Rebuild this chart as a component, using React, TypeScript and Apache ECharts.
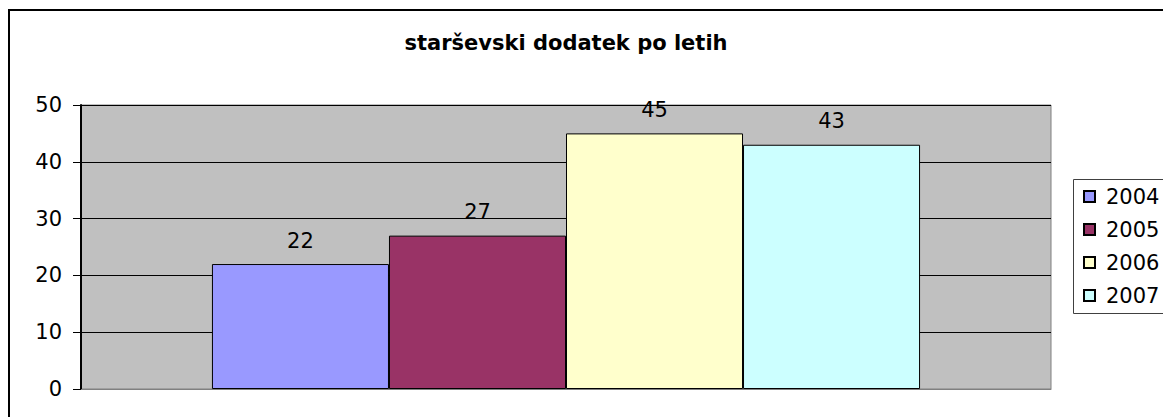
import React, { useEffect, useRef } from "react";
import * as echarts from "echarts";

const titleText = "starševski dodatek po letih";
const categories = [""];
const seriesNames = ["2004", "2005", "2006", "2007"];
const seriesValues = [22, 27, 45, 43];
const seriesColors = ["#9999FF", "#993366", "#FFFFCC", "#CCFFFF"];
const yTicks = { min: 0, max: 50, interval: 10 };

const FONT = "DejaVu Sans";

export default function App() {
  const ref = useRef<HTMLDivElement>(null);
  useEffect(() => {
    if (!ref.current) return;
    const chart = echarts.init(ref.current, undefined, { renderer: "svg" });
    chart.setOption({
      animation: false,
      backgroundColor: "#FFFFFF",
      title: {
        text: titleText,
        left: 566,
        textAlign: "center",
        top: 32,
        padding: 0,
        textStyle: { fontFamily: FONT, fontWeight: "bold", fontSize: 21, color: "#000" },
      },
      graphic: [
        {
          type: "rect",
          shape: { x: 9, y: 10, width: 1300, height: 600 },
          style: { fill: "none", stroke: "#000", lineWidth: 2 },
          silent: true,
          z: 100,
        },
        {
          type: "rect",
          shape: { x: 1073.5, y: 179.5, width: 200, height: 134 },
          style: { fill: "#fff", stroke: "#404040", lineWidth: 1 },
          silent: true,
          z: -1,
        },
      ],
      legend: {
        orient: "vertical",
        left: 1083,
        top: 186,
        padding: 0,
        itemWidth: 11,
        itemHeight: 11,
        itemGap: 12,
        icon: "rect",
        data: seriesNames,
        textStyle: { fontFamily: FONT, fontSize: 21, color: "#000", lineHeight: 21, padding: [0, 0, 0, 6] },
      },
      grid: {
        left: 81,
        right: 112,
        top: 105,
        bottom: 28,
        show: true,
        backgroundColor: "#C0C0C0",
        borderColor: "#808080",
        borderWidth: 1,
      },
      xAxis: {
        type: "category",
        data: categories,
        axisLine: { show: true, lineStyle: { color: "#808080", width: 1 } },
        axisTick: { show: false },
        axisLabel: { show: false },
      },
      yAxis: {
        type: "value",
        min: yTicks.min,
        max: yTicks.max,
        interval: yTicks.interval,
        axisLine: { show: true, lineStyle: { color: "#000", width: 2 } },
        axisTick: { show: true, length: 8, lineStyle: { color: "#000" } },
        axisLabel: { margin: 19, fontFamily: FONT, fontSize: 21, color: "#000" },
        splitLine: { show: true, lineStyle: { color: "#000", width: 1 } },
      },
      series: seriesNames.map((name, i) => ({
        name,
        type: "bar",
        data: [seriesValues[i]],
        barGap: "0%",
        barCategoryGap: "27%",
        itemStyle: { color: seriesColors[i], borderColor: "#000", borderWidth: 1 },
        label: {
          show: true,
          position: "top",
          distance: 13,
          fontFamily: FONT,
          fontSize: 21,
          color: "#000",
        },
      })),
    });
    return () => chart.dispose();
  }, []);
  return (
    <div
      ref={ref}
      style={{ position: "absolute", left: 0, top: 0, width: 1163, height: 417 }}
    />
  );
}
